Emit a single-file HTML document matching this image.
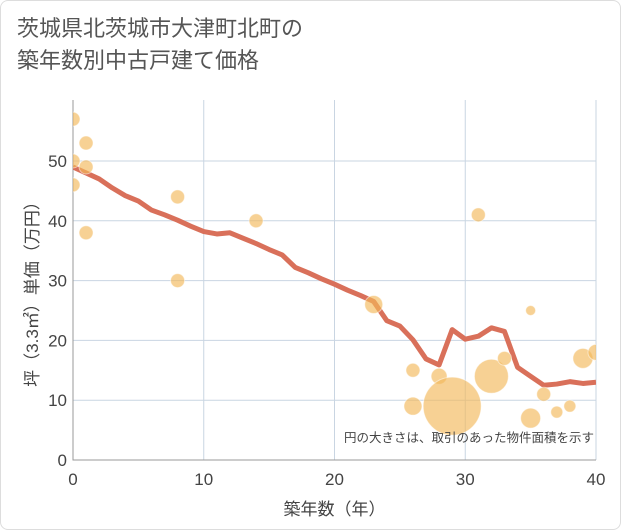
<!DOCTYPE html>
<html><head><meta charset="utf-8"><style>
body{margin:0;background:#fff;font-family:"Liberation Sans","Noto Sans CJK JP",sans-serif}
#c{position:relative;width:619px;height:528px;border:1px solid #ddd;border-radius:8px;overflow:hidden}
.t{position:absolute;left:16px;font-size:22px;color:#555;line-height:32px}
</style></head><body>
<div id="c">
<div class="t" style="top:12px">茨城県北茨城市大津町北町の<br>築年数別中古戸建て価格</div>
<svg id="s" width="621" height="530" style="position:absolute;left:-1px;top:-1px"><defs><clipPath id="pc"><rect x="73" y="100" width="523" height="360"/></clipPath></defs></svg>
</div>
<script>
const lineX=[0,1,2,3,4,5,6,7,8,9,10,11,12,13,14,15,16,17,18,19,20,21,22,23,24,25,26,27,28,29,30,31,32,33,34,35,36,37,38,39,40];
const lineY=[49,48,47,45.5,44.2,43.3,41.8,41,40.1,39.1,38.2,37.8,38,37.1,36.2,35.2,34.3,32.2,31.3,30.3,29.4,28.4,27.5,26.5,23.3,22.4,20.1,16.9,15.9,21.8,20.2,20.7,22.1,21.5,15.5,14,12.5,12.7,13.1,12.8,13];
const bubX=[0,0,0,1,1,1,8,8,14,23,31,35,26,26,28,29,32,33,35,36,37,38,39,40];
const bubY=[57,50,46,53,49,38,44,30,40,26,41,25,15,9,14,9,14,17,7,11,8,9,17,18];
const bubR=[7,7,7,7,7,7,7,7,7,9,7,5,7,9,8,29,17,7,10,7,6,6,10,8];
const xTicks=[0,10,20,30,40], yTicks=[0,10,20,30,40,50];
const L=73,R=596,T=100,B=460;
const sx=v=>L+(R-L)*v/40, sy=v=>B-(B-161)*v/50;
const s=document.getElementById('s');const NS='http://www.w3.org/2000/svg';
function mk(t,a,p){const e=document.createElementNS(NS,t);for(const k in a)e.setAttribute(k,a[k]);(p||s).appendChild(e);return e;}
xTicks.forEach(v=>{const g=mk('line',{x1:sx(v),x2:sx(v),y1:T,y2:B,stroke:'#c9d5e2'});

const t=mk('text',{x:sx(v),y:B+25,'text-anchor':'middle','font-size':17,fill:'#444'});t.textContent=v;
});
yTicks.forEach(v=>{const g=mk('line',{x1:L,x2:R,y1:sy(v),y2:sy(v),stroke:'#c9d5e2'});

const t=mk('text',{x:L-6,y:sy(v)+6,'text-anchor':'end','font-size':17,fill:'#444'});t.textContent=v;
});
const ax=mk('path',{d:`M${L} ${T}V${B}H${R}`,stroke:'#999',fill:'none'});

const pg=mk('g',{'clip-path':'url(#pc)'});

const ln=mk('polyline',{points:lineX.map((x,i)=>sx(x)+','+sy(lineY[i])).join(' '),fill:'none',stroke:'#d9705a','stroke-width':5,'stroke-linejoin':'round'},pg);

bubX.forEach((x,i)=>{const c=mk('circle',{cx:sx(x),cy:sy(bubY[i]),r:bubR[i],fill:'#f3b95a','fill-opacity':0.65,stroke:'#fff','stroke-opacity':0.5},pg);
});
const n=mk('text',{x:594,y:442,'text-anchor':'end','font-size':12.5,fill:'#444'});n.textContent='円の大きさは、取引のあった物件面積を示す';

const xt=mk('text',{x:(L+R)/2,y:515,'text-anchor':'middle','font-size':17,fill:'#444'});xt.textContent='築年数（年）';

const yt=mk('text',{x:0,y:0,transform:`translate(38,${(T+B)/2+10}) rotate(-90)`,'text-anchor':'middle','font-size':17,fill:'#444'});yt.textContent='坪（3.3㎡）単価（万円）';

</script></body></html>
